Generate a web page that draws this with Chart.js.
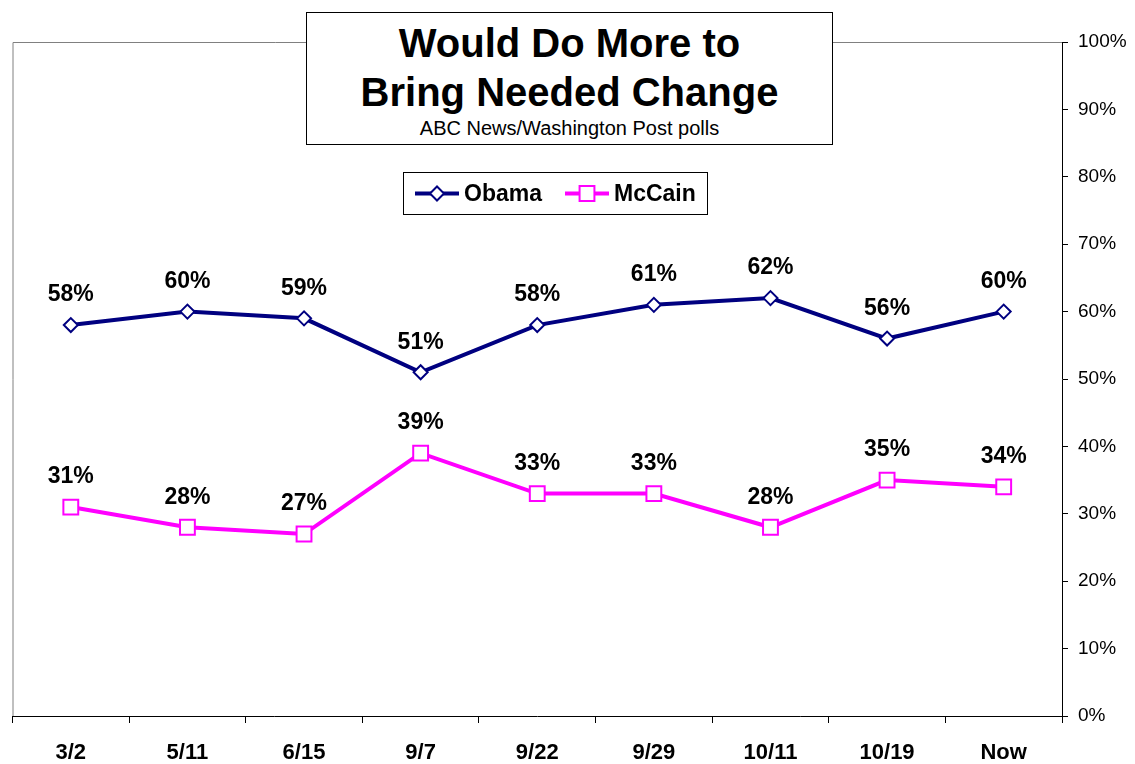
<!DOCTYPE html>
<html>
<head>
<meta charset="utf-8">
<script src="https://cdn.jsdelivr.net/npm/chart.js@4/dist/chart.umd.min.js"></script>
<style>
  html, body { margin: 0; padding: 0; background: #fff; }
  #wrap { position: relative; width: 1135px; height: 764px; }
  #c { position: absolute; left: 0; top: 0; }
  #titlebox {
    position: absolute; left: 306px; top: 12px; width: 525px; height: 131px;
    border: 1px solid #000; background: #fff; text-align: center;
    font-family: "Liberation Sans", Arial, sans-serif; color: #000;
  }
  #titlebox div { position: absolute; left: 0; right: 0; white-space: nowrap; line-height: 1; }
  #t1 { top: 10px; font-weight: bold; font-size: 40px; }
  #t2 { top: 59px; font-weight: bold; font-size: 40px; }
  #t3 { top: 105px; font-size: 20px; }
</style>
</head>
<body>
<div id="wrap">
  <canvas id="c" width="1135" height="764"></canvas>
  <div id="titlebox">
    <div id="t1">Would Do More to</div>
    <div id="t2">Bring Needed Change</div>
    <div id="t3">ABC News/Washington Post polls</div>
  </div>
</div>
<script>
const categories = ["3/2", "5/11", "6/15", "9/7", "9/22", "9/29", "10/11", "10/19", "Now"];
const obama = [58, 60, 59, 51, 58, 61, 62, 56, 60];
const mccain = [31, 28, 27, 39, 33, 33, 28, 35, 34];
const yTicks = [0, 10, 20, 30, 40, 50, 60, 70, 80, 90, 100];

const FONT = "'Liberation Sans', Arial, sans-serif";

const framePlugin = {
  id: 'frame',
  beforeDatasetsDraw(chart) {
    const { ctx, chartArea: a } = chart;
    ctx.save();
    ctx.strokeStyle = '#808080';
    ctx.lineWidth = 1;
    ctx.beginPath();
    ctx.moveTo(a.left + 0.5, a.bottom);
    ctx.lineTo(a.left + 0.5, a.top + 0.5);
    ctx.lineTo(a.right, a.top + 0.5);
    ctx.stroke();
    ctx.restore();
  }
};

const labelPlugin = {
  id: 'valueLabels',
  afterDatasetsDraw(chart) {
    const { ctx } = chart;
    ctx.save();
    ctx.font = 'bold 23px ' + FONT;
    ctx.fillStyle = '#000';
    ctx.textAlign = 'center';
    ctx.textBaseline = 'middle';
    chart.data.datasets.forEach((ds, i) => {
      const meta = chart.getDatasetMeta(i);
      meta.data.forEach((pt, j) => {
        ctx.fillText(ds.data[j] + '%', pt.x, pt.y - 30);
      });
    });
    ctx.restore();
  }
};

const legendPlugin = {
  id: 'customLegend',
  afterDraw(chart) {
    const { ctx } = chart;
    const box = { x: 403.5, y: 172.5, w: 304, h: 42 };
    ctx.save();
    ctx.fillStyle = '#fff';
    ctx.fillRect(box.x, box.y, box.w, box.h);
    ctx.strokeStyle = '#000';
    ctx.lineWidth = 1;
    ctx.strokeRect(box.x, box.y, box.w, box.h);
    const cy = box.y + box.h / 2;
    const starts = [415, 565];
    chart.data.datasets.forEach((ds, i) => {
      const x0 = starts[i];
      ctx.strokeStyle = ds.borderColor;
      ctx.lineWidth = ds.borderWidth;
      ctx.beginPath();
      ctx.moveTo(x0, cy);
      ctx.lineTo(x0 + 44, cy);
      ctx.stroke();
      const px = x0 + 22;
      ctx.fillStyle = ds.pointBackgroundColor;
      ctx.strokeStyle = ds.pointBorderColor;
      ctx.lineWidth = ds.pointBorderWidth;
      ctx.beginPath();
      if (ds.pointStyle === 'rectRot') {
        const r = ds.pointRadius;
        ctx.moveTo(px - r, cy); ctx.lineTo(px, cy - r);
        ctx.lineTo(px + r, cy); ctx.lineTo(px, cy + r); ctx.closePath();
      } else {
        const s = Math.SQRT1_2 * ds.pointRadius;
        ctx.rect(px - s, cy - s, 2 * s, 2 * s);
      }
      ctx.fill(); ctx.stroke();
      ctx.fillStyle = '#000';
      ctx.font = 'bold 23px ' + FONT;
      ctx.textAlign = 'left';
      ctx.textBaseline = 'middle';
      ctx.fillText(ds.label, x0 + 49, cy + 1);
    });
    ctx.restore();
  }
};

new Chart(document.getElementById('c'), {
  type: 'line',
  data: {
    labels: categories,
    datasets: [
      {
        label: 'Obama', data: obama,
        borderColor: '#000080', borderWidth: 4,
        pointStyle: 'rectRot', pointRadius: 7, pointHoverRadius: 7,
        pointBackgroundColor: '#ffffff', pointBorderColor: '#000080', pointBorderWidth: 2,
        tension: 0
      },
      {
        label: 'McCain', data: mccain,
        borderColor: '#ff00ff', borderWidth: 4,
        pointStyle: 'rect', pointRadius: 10.5, pointHoverRadius: 10.5,
        pointBackgroundColor: '#ffffff', pointBorderColor: '#ff00ff', pointBorderWidth: 2,
        tension: 0
      }
    ]
  },
  options: {
    responsive: false,
    animation: false,
    devicePixelRatio: 1,
    layout: { padding: { left: 7, top: 42, right: 0, bottom: 0 } },
    plugins: {
      legend: { display: false },
      title: { display: false },
      tooltip: { enabled: false }
    },
    events: [],
    scales: {
      x: {
        type: 'category',
        offset: true,
        grid: { offset: true, drawOnChartArea: false, drawTicks: true, tickLength: 7, color: '#000', lineWidth: 1 },
        border: { color: '#000', width: 1 },
        ticks: {
          autoSkip: false, maxRotation: 0, minRotation: 0, padding: 17,
          color: '#000', font: { family: FONT, size: 22, weight: 'bold' }
        },
        afterFit(scale) {
          scale.height = 48;
          scale.paddingLeft = 0; scale.paddingRight = 0;
        }
      },
      y: {
        position: 'right',
        min: 0, max: 100,
        afterBuildTicks(scale) { scale.ticks = yTicks.map(v => ({ value: v })); },
        grid: { drawOnChartArea: false, drawTicks: true, tickLength: 6, color: '#000', lineWidth: 1 },
        border: { color: '#000', width: 1 },
        ticks: {
          padding: 10, color: '#000',
          font: { family: FONT, size: 19 },
          callback: v => v + '%'
        },
        afterFit(scale) {
          scale.width = 73;
          scale.paddingTop = 0; scale.paddingBottom = 0;
        }
      }
    }
  },
  plugins: [framePlugin, labelPlugin, legendPlugin]
});
</script>
</body>
</html>
